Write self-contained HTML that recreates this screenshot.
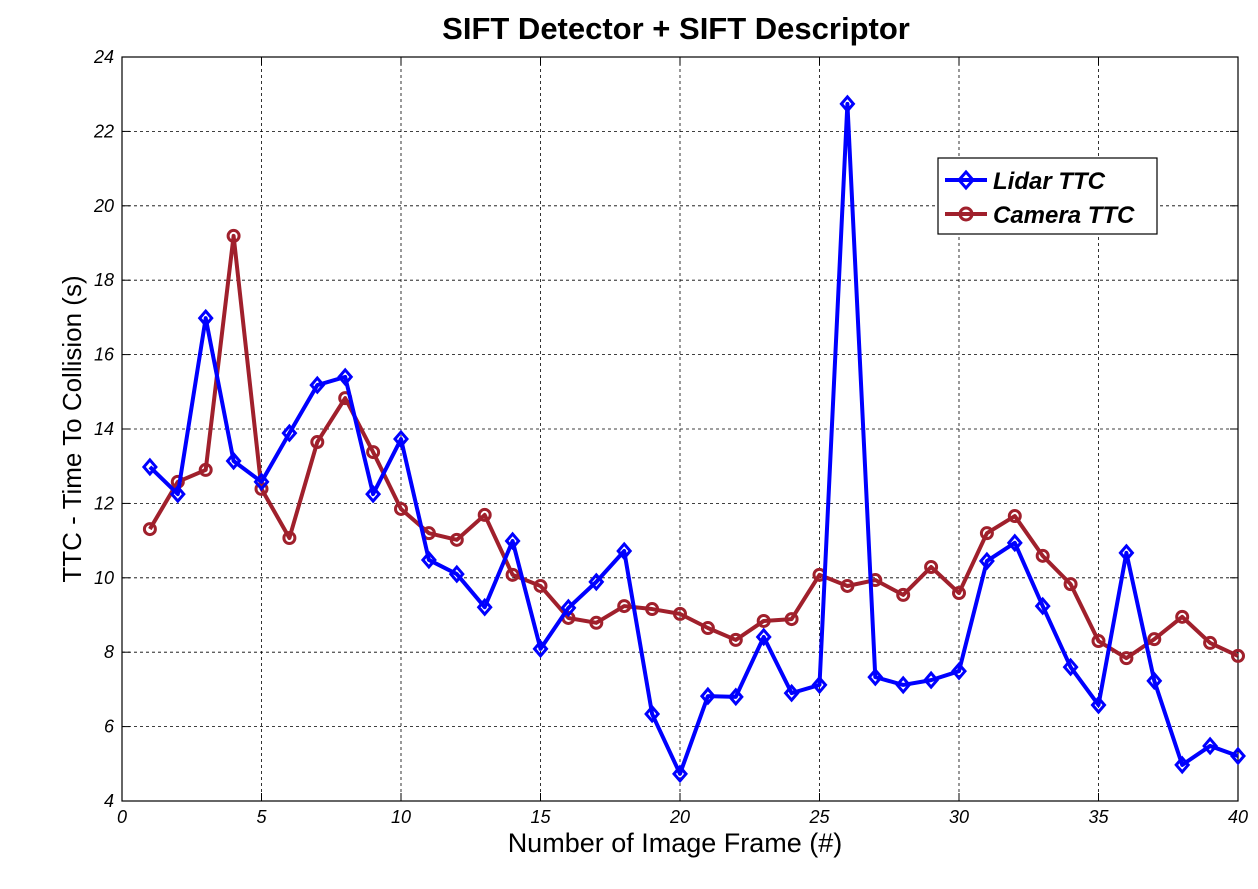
<!DOCTYPE html>
<html><head><meta charset="utf-8"><style>
body{margin:0;background:#fff;}
svg text{font-family:"Liberation Sans",sans-serif;}
</style></head><body>
<svg width="1258" height="884" xmlns="http://www.w3.org/2000/svg">
<rect width="1258" height="884" fill="#fff"/>
<g id="grid"></g>
<g id="axes"></g>
<g id="series"></g>
<text x="676" y="39" text-anchor="middle" font-size="31" font-weight="bold">SIFT Detector + SIFT Descriptor</text>
<text x="675" y="852" text-anchor="middle" font-size="27">Number of Image Frame (#)</text>
<text transform="translate(81,429) rotate(-90)" text-anchor="middle" font-size="26">TTC - Time To Collision (s)</text>
<g>
<rect x="938" y="158" width="219" height="76" fill="#fff" stroke="#000" stroke-width="1.2"/>
<g>
<line x1="945" y1="180" x2="987" y2="180" stroke="#0000ff" stroke-width="4"/>
<path d="M966,172 L973,180 L966,188 L959,180 Z" fill="none" stroke="#0000ff" stroke-width="3"/>
<text x="993" y="189" font-size="24" font-weight="bold" font-style="italic">Lidar TTC</text></g>
<g>
<line x1="945" y1="214" x2="987" y2="214" stroke="#a0202c" stroke-width="4"/>
<circle cx="966" cy="214" r="6" fill="none" stroke="#a0202c" stroke-width="3"/>
<text x="993" y="223" font-size="24" font-weight="bold" font-style="italic">Camera TTC</text></g>
</g>
</svg>
<script>
const frames=[1,2,3,4,5,6,7,8,9,10,11,12,13,14,15,16,17,18,19,20,21,22,23,24,25,26,27,28,29,30,31,32,33,34,35,36,37,38,39,40];
const lidarTTC=[12.98,12.25,16.98,13.14,12.58,13.89,15.18,15.4,12.25,13.73,10.48,10.1,9.21,10.99,8.09,9.19,9.89,10.72,6.34,4.73,6.82,6.8,8.41,6.9,7.12,22.74,7.33,7.12,7.25,7.49,10.45,10.94,9.24,7.6,6.58,10.67,7.23,4.97,5.48,5.21];
const cameraTTC=[11.31,12.58,12.9,19.19,12.39,11.07,13.65,14.83,13.38,11.85,11.2,11.02,11.69,10.08,9.78,8.92,8.79,9.24,9.16,9.03,8.65,8.33,8.84,8.89,10.08,9.78,9.94,9.54,10.29,9.59,11.2,11.66,10.59,9.83,8.3,7.84,8.35,8.95,8.25,7.9];
const xTicks=[0,5,10,15,20,25,30,35,40];
const yTicks=[4,6,8,10,12,14,16,18,20,22,24];
const X0=122,X1=1238,Y0=801,Y1=57;
const sx=v=>X0+(v-0)/40*(X1-X0);
const sy=v=>Y0-(v-4)/20*(Y0-Y1);
const NS='http://www.w3.org/2000/svg';
function mk(t,a,p){const e=document.createElementNS(NS,t);for(const k in a)e.setAttribute(k,a[k]);p.appendChild(e);return e;}
const grid=document.getElementById('grid'),axes=document.getElementById('axes'),ser=document.getElementById('series');
xTicks.forEach(t=>{const x=sx(t);
 if(t>0&&t<40){const l=mk('line',{x1:x,x2:x,y1:Y1,y2:Y0,stroke:'#000','stroke-width':0.8,'stroke-dasharray':'3,3'},grid);}
 mk('line',{x1:x,x2:x,y1:Y0,y2:Y0-8,stroke:'#000'},axes);mk('line',{x1:x,x2:x,y1:Y1,y2:Y1+8,stroke:'#000'},axes);
 const tx=mk('text',{x:x,y:Y0+22,'text-anchor':'middle','font-size':18,'font-style':'italic'},axes);tx.textContent=t;
 });
yTicks.forEach(t=>{const y=sy(t);
 if(t>4&&t<24){const l=mk('line',{x1:X0,x2:X1,y1:y,y2:y,stroke:'#000','stroke-width':0.8,'stroke-dasharray':'3,3'},grid);}
 mk('line',{x1:X0,x2:X0+8,y1:y,y2:y,stroke:'#000'},axes);mk('line',{x1:X1,x2:X1-8,y1:y,y2:y,stroke:'#000'},axes);
 const tx=mk('text',{x:X0-8,y:y+6,'text-anchor':'end','font-size':18,'font-style':'italic'},axes);tx.textContent=t;
 });
const fr=mk('rect',{x:X0,y:Y1,width:X1-X0,height:Y0-Y1,fill:'none',stroke:'#000','stroke-width':1.2},axes);

function series(vals,col,name,marker){
 const p=mk('polyline',{points:frames.map((f,i)=>sx(f)+','+sy(vals[i])).join(' '),fill:'none',stroke:col,'stroke-width':4,'stroke-linejoin':'round'},ser);
 
 frames.forEach((f,i)=>{const x=sx(f),y=sy(vals[i]);let m;
  if(marker==='d')m=mk('path',{d:`M${x},${y-7}L${x+6},${y}L${x},${y+7}L${x-6},${y}Z`,fill:'none',stroke:col,'stroke-width':3},ser);
  else m=mk('circle',{cx:x,cy:y,r:5.5,fill:'none',stroke:col,'stroke-width':3},ser);
  });
}
series(cameraTTC,'#a0202c','camera-ttc','o');
series(lidarTTC,'#0000ff','lidar-ttc','d');
</script>
</body></html>
